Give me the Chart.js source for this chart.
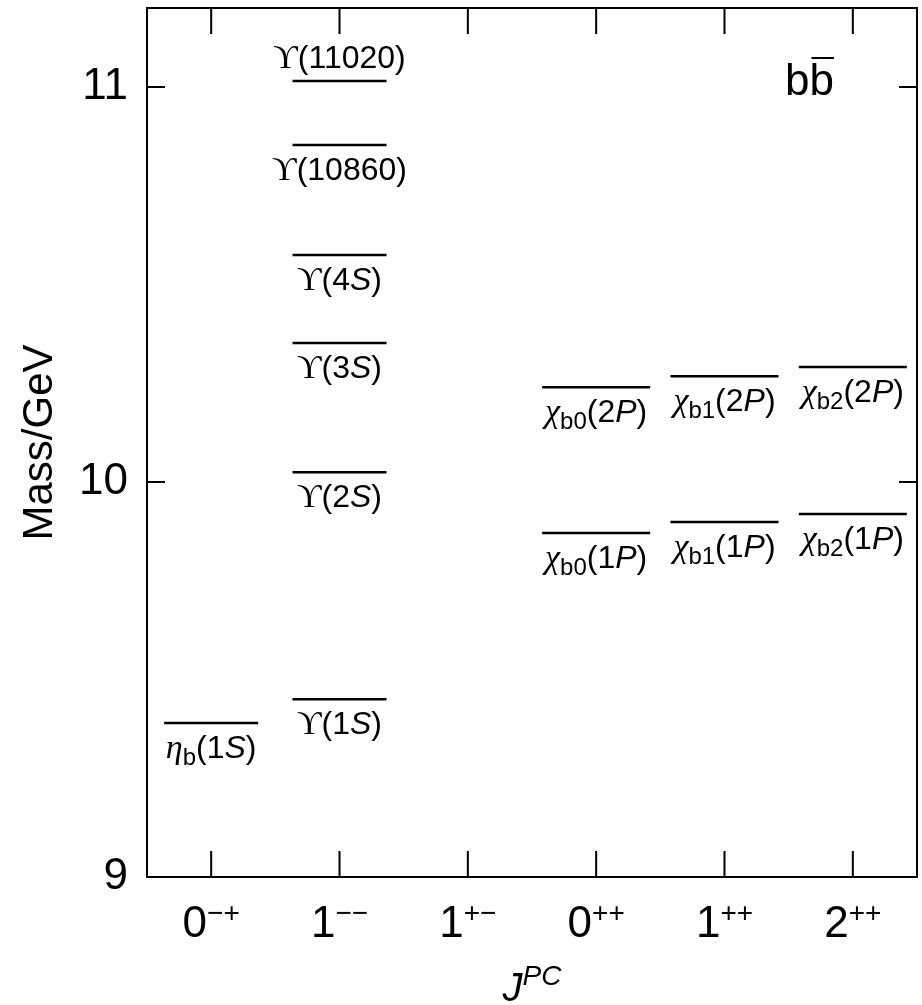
<!DOCTYPE html>
<html>
<head>
<meta charset="utf-8">
<script src="https://cdn.jsdelivr.net/npm/chart.js@4"></script>
<style>
  body { margin: 0; background: #fff; }
  #wrap { width: 922px; height: 1005px; }
</style>
</head>
<body>
<div id="wrap"><canvas id="spectrumChart"></canvas></div>
<script>
// J^PC columns and the b-bbar states
const jpcLabels = ['0-+', '1--', '1+-', '0++', '1++', '2++'];
const stateSymbol = ['η', 'ϒ', 'ϒ', 'ϒ', 'ϒ', 'ϒ', 'ϒ', 'χ', 'χ', 'χ', 'χ', 'χ', 'χ'];
const stateSub = ['b', '', '', '', '', '', '', 'b0', 'b1', 'b2', 'b0', 'b1', 'b2'];
const stateLevel = ['1S', '1S', '2S', '3S', '4S', '10860', '11020', '1P', '1P', '1P', '2P', '2P', '2P'];
const stateJPC = ['0-+', '1--', '1--', '1--', '1--', '1--', '1--', '0++', '1++', '2++', '0++', '1++', '2++'];
const stateMass = [9.39, 9.45, 10.025, 10.352, 10.575, 10.853, 11.015, 9.871, 9.899, 9.919, 10.240, 10.268, 10.291];

const SANS = '"Liberation Sans", Arial, sans-serif';
const SERIF = '"Liberation Serif", "DejaVu Serif", serif';

function stateParts(i) {
    const sym = stateSymbol[i];
    const parts = [{ text: sym, font: (sym === 'ϒ' ? '' : 'italic ') + '34px ' + SERIF, dy: 0 }];
    if (stateSub[i]) parts.push({ text: stateSub[i], font: '24px ' + SANS, dy: 7 });
    const m = stateLevel[i].match(/^(\d+)([A-Z]?)$/);
    parts.push({ text: '(' + m[1], font: '32px ' + SANS, dy: 0 });
    if (m[2]) parts.push({ text: m[2], font: 'italic 32px ' + SANS, dy: 0 });
    parts.push({ text: ')', font: '32px ' + SANS, dy: 0 });
    return parts;
}

function drawParts(ctx, parts, cx, baseline) {
    let total = 0;
    parts.forEach(p => {
        ctx.font = p.font;
        p.w = ctx.measureText(p.text).width;
        total += p.w;
    });
    let x = cx - total / 2;
    parts.forEach(p => {
        ctx.font = p.font;
        ctx.fillText(p.text, x, baseline + p.dy);
        x += p.w;
    });
}

const spectrumDecor = {
    id: 'spectrumDecor',
    afterDatasetsDraw(chart) {
        const { ctx, chartArea: area, scales: { x, y } } = chart;
        ctx.save();
        ctx.strokeStyle = '#000';
        ctx.fillStyle = '#000';
        ctx.lineWidth = 2;
        ctx.strokeRect(area.left, area.top, area.right - area.left, area.bottom - area.top);

        // ticks point inwards on all four sides
        ctx.beginPath();
        y.ticks.forEach(t => {
            const py = y.getPixelForValue(t.value);
            const len = Math.abs(t.value - Math.round(t.value)) < 1e-6 ? 18 : 11;
            ctx.moveTo(area.left, py); ctx.lineTo(area.left + len, py);
            ctx.moveTo(area.right, py); ctx.lineTo(area.right - len, py);
        });
        x.ticks.forEach((t, i) => {
            const px = x.getPixelForTick(i);
            ctx.moveTo(px, area.bottom); ctx.lineTo(px, area.bottom - 26);
            ctx.moveTo(px, area.top); ctx.lineTo(px, area.top + 26);
        });
        ctx.stroke();

        ctx.textAlign = 'left';
        ctx.textBaseline = 'alphabetic';

        // J^PC tick labels
        jpcLabels.forEach((lab, i) => {
            const px = x.getPixelForTick(i);
            drawParts(ctx, [
                { text: lab[0], font: '44px ' + SANS, dy: 0 },
                { text: lab.slice(1).replace(/-/g, '−'), font: '28px ' + SANS, dy: -15 }
            ], px, area.bottom + 60);
        });

        // axis title J^PC
        drawParts(ctx, [
            { text: 'J', font: 'italic 40px ' + SANS, dy: 0 },
            { text: 'PC', font: 'italic 28px ' + SANS, dy: -16 }
        ], (area.left + area.right) / 2, area.bottom + 124);

        // b bbar tag
        ctx.font = '44px ' + SANS;
        const bx = area.right - 132, by = area.top + 87;
        const bw = ctx.measureText('b').width;
        ctx.fillText('bb', bx, by);
        ctx.beginPath();
        ctx.moveTo(bx + bw + 2, by - 37);
        ctx.lineTo(bx + 2 * bw, by - 37);
        ctx.stroke();

        // state names under (or over) each level
        const meta = chart.getDatasetMeta(0);
        const topMass = Math.max(...stateMass);
        meta.data.forEach((pt, i) => {
            const base = stateMass[i] === topMass ? pt.y - 13 : pt.y + 35;
            drawParts(ctx, stateParts(i), pt.x, base);
        });
        ctx.restore();
    }
};

const ctx = document.getElementById('spectrumChart');

new Chart(ctx, {
    type: 'scatter',
    data: {
        datasets: [
            {
                label: 'bb states',
                data: stateMass.map((m, i) => ({ x: stateJPC[i], y: m })),
                pointStyle: 'line',
                pointRadius: c => stateSymbol[c.dataIndex] === 'χ' ? 54 : 47,
                borderColor: '#000',
                borderWidth: 2.5,
            }
        ]
    },
    options: {
        responsive: true,
        maintainAspectRatio: false,
        animation: false,
        events: [],
        layout: { autoPadding: false, padding: { top: 8, right: 5, left: 0, bottom: 0 } },
        plugins: { legend: { display: false }, tooltip: { enabled: false } },
        scales: {
            x: {
                type: 'category',
                labels: jpcLabels,
                offset: true,
                grid: { display: false, drawTicks: false },
                border: { display: false },
                ticks: { display: false },
                afterFit: s => { s.height = 128; }
            },
            y: {
                min: 9,
                max: 11.2,
                grid: { display: false, drawTicks: false },
                border: { display: false },
                ticks: {
                    stepSize: 0.2,
                    padding: 19,
                    color: '#000',
                    font: { family: SANS, size: 44 },
                    callback: v => Math.abs(v - Math.round(v)) < 1e-6 ? String(Math.round(v)) : null
                },
                title: {
                    display: true,
                    text: 'Mass/GeV',
                    color: '#000',
                    font: { family: SANS, size: 42 },
                    padding: { top: 15, bottom: 0 }
                },
                afterFit: s => {
                    s.width = 147;
                    s.paddingTop = 0;
                    s.paddingBottom = 0;
                }
            }
        }
    },
    plugins: [spectrumDecor]
});
</script>
</body>
</html>
